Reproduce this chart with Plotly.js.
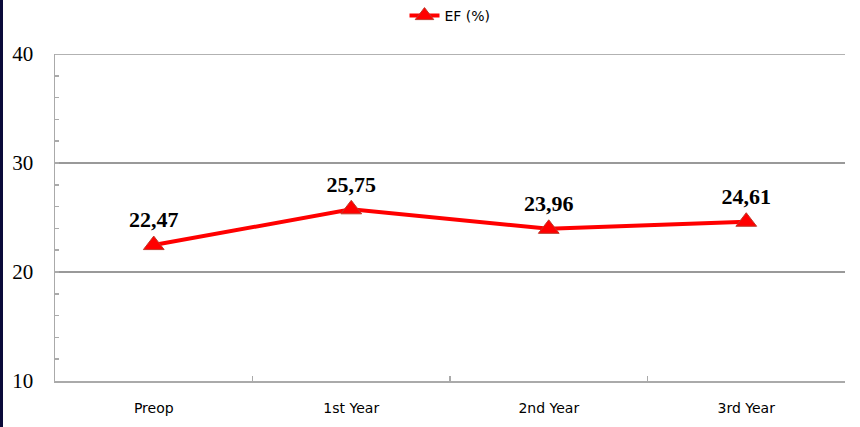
<!DOCTYPE html>
<html>
<head>
<meta charset="utf-8">
<script src="https://cdn.plot.ly/plotly-3.0.1.min.js"></script>
<style>
html,body{margin:0;padding:0;background:#fff;}
#chart{width:860px;height:427px;}
#strip{position:absolute;left:0;top:0;width:3px;height:427px;background:#0b0b3a;}
</style>
</head>
<body>
<div id="chart"></div>
<div id="strip"></div>
<script>
const categories = ["Preop", "1st Year", "2nd Year", "3rd Year"];
const efValues = [22.47, 25.75, 23.96, 24.61];
const seriesName = "EF (%)";
const labels = efValues.map(v => v.toFixed(2).replace(".", ","));

const trace = {
  x: categories,
  y: efValues,
  name: seriesName,
  type: "scatter",
  mode: "lines+markers+text",
  text: labels,
  textposition: "top center",
  textfont: {family: "Liberation Serif", size: 22, color: "#000", weight: "bold"},
  line: {color: "#ff0000", width: 4},
  marker: {symbol: "triangle-up", size: 18, color: "#ff0000", line: {color: "#c0392b", width: 1}},
  cliponaxis: false
};

const layout = {
  width: 860, height: 427,
  margin: {l: 55, r: 15, t: 54, b: 46},
  paper_bgcolor: "#fff", plot_bgcolor: "#fff",
  showlegend: true,
  legend: {orientation: "h", x: 0.5, xanchor: "center", y: 1, yref: "container", yanchor: "top",
           font: {family: "DejaVu Sans", size: 14, color: "#000"}},
  xaxis: {
    type: "category",
    range: [-0.5, 3.5],
    tickson: "boundaries",
    ticks: "inside", ticklen: 5, tickcolor: "#aaa", tickwidth: 1.5,
    showline: true, linecolor: "#aaa", linewidth: 1.5,
    showgrid: false,
    tickfont: {family: "DejaVu Sans", size: 14, color: "#000"},
    ticklabelstandoff: 14,
    fixedrange: true
  },
  yaxis: {
    range: [10, 40], dtick: 10, tick0: 10,
    ticks: "inside", ticklen: 4, tickcolor: "#aaa", tickwidth: 1.5,
    showline: true, linecolor: "#aaa", linewidth: 1.5,
    showgrid: true, gridcolor: "#999", gridwidth: 1.5,
    zeroline: false,
    minor: {dtick: 2, ticks: "inside", ticklen: 4, tickcolor: "#aaa", showgrid: false},
    tickfont: {family: "Liberation Serif", size: 21, color: "#000"},
    ticklabelstandoff: 16,
    fixedrange: true
  },
  shapes: [{type: "line", xref: "paper", yref: "y", x0: 0, x1: 1, y0: 40, y1: 40,
            line: {color: "#999", width: 1.5}}]
};

Plotly.newPlot("chart", [trace], layout, {displayModeBar: false, staticPlot: true});
</script>
</body>
</html>
